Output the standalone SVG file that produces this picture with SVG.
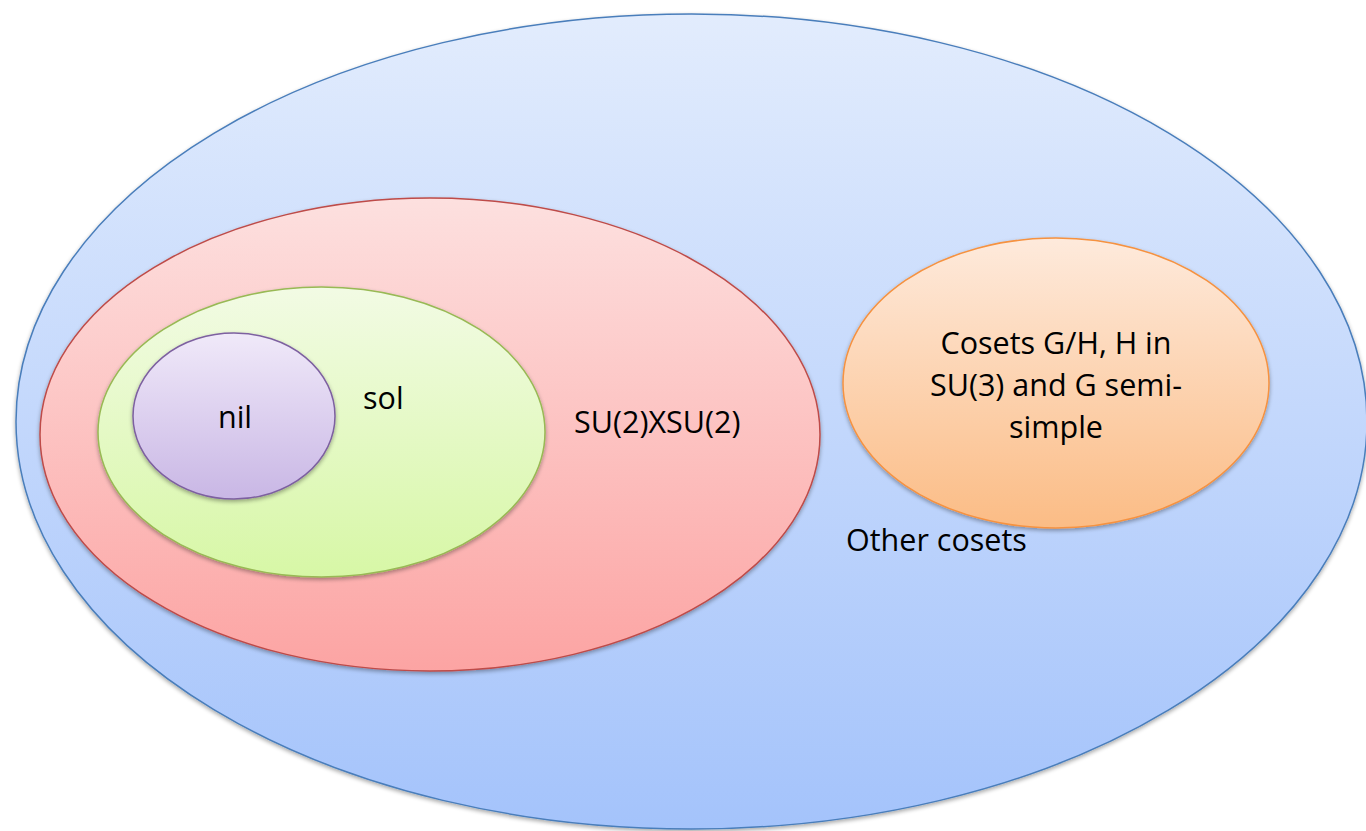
<svg xmlns="http://www.w3.org/2000/svg" width="1366" height="831" viewBox="0 0 1366 831">
<style>
  .t{font-family:"Open Sans",Lato,"Liberation Sans",sans-serif;font-size:30.5px;fill:#000}
  .c{text-anchor:middle}
</style>
<defs>
  <linearGradient id="gBlue" x1="0" y1="0" x2="0" y2="1"><stop offset="0" stop-color="#e2ecfd"/><stop offset="1" stop-color="#a4c3fb"/></linearGradient>
  <linearGradient id="gRed" x1="0" y1="0" x2="0" y2="1"><stop offset="0" stop-color="#fde0df"/><stop offset="1" stop-color="#fca4a3"/></linearGradient>
  <linearGradient id="gGreen" x1="0" y1="0" x2="0" y2="1"><stop offset="0" stop-color="#f2fbe4"/><stop offset="1" stop-color="#d7f7a6"/></linearGradient>
  <linearGradient id="gPurple" x1="0" y1="0" x2="0" y2="1"><stop offset="0" stop-color="#f0e9f9"/><stop offset="1" stop-color="#c9b7e5"/></linearGradient>
  <linearGradient id="gOrange" x1="0" y1="0" x2="0" y2="1"><stop offset="0" stop-color="#feeadc"/><stop offset="1" stop-color="#fbbc85"/></linearGradient>
  <filter id="sh" x="-5%" y="-5%" width="110%" height="115%">
    <feGaussianBlur in="SourceAlpha" stdDeviation="2"/>
    <feOffset dx="0" dy="2" result="b"/>
    <feComponentTransfer><feFuncA type="linear" slope="0.35"/></feComponentTransfer>
    <feMerge><feMergeNode/><feMergeNode in="SourceGraphic"/></feMerge>
  </filter>
</defs>
<rect width="1366" height="831" fill="#ffffff"/>
<g id="other-cosets">
  <ellipse cx="691.5" cy="421.5" rx="675.5" ry="407.5" fill="url(#gBlue)" stroke="#4a7ebb" stroke-width="1.5" filter="url(#sh)"/>
  <text class="t" x="846" y="551">Other cosets</text>
</g>
<g id="su2xsu2">
  <ellipse cx="430" cy="434.5" rx="390" ry="236.5" fill="url(#gRed)" stroke="#be4b48" stroke-width="1.5" filter="url(#sh)"/>
  <text class="t" x="574" y="433">SU(2)XSU(2)</text>
</g>
<g id="sol">
  <ellipse cx="321.5" cy="432" rx="223.5" ry="145" fill="url(#gGreen)" stroke="#98b954" stroke-width="1.5" filter="url(#sh)"/>
  <text class="t" x="363" y="409">sol</text>
</g>
<g id="nil">
  <ellipse cx="234" cy="416" rx="101" ry="83" fill="url(#gPurple)" stroke="#7d60a0" stroke-width="1.5" filter="url(#sh)"/>
  <text class="t c" x="235" y="428">nil</text>
</g>
<g id="cosets-gh">
  <ellipse cx="1056" cy="383" rx="213" ry="145" fill="url(#gOrange)" stroke="#f69240" stroke-width="1.5" filter="url(#sh)"/>
  <text class="t c" x="1056" y="354">Cosets G/H, H in</text>
  <text class="t c" x="1056" y="396">SU(3) and G semi-</text>
  <text class="t c" x="1056" y="438">simple</text>
</g>
<g id="connectors"/>
</svg>
